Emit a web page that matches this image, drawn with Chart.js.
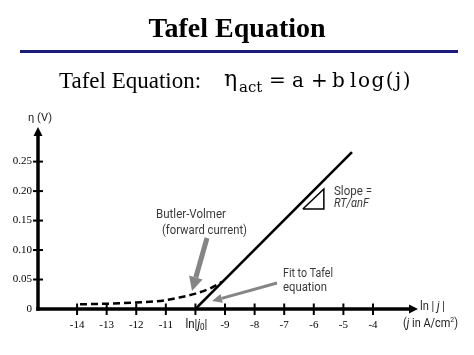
<!DOCTYPE html>
<html><head><meta charset="utf-8">
<script src="https://cdn.jsdelivr.net/npm/chart.js@4"></script>
<style>
html,body{margin:0;padding:0;background:#fff;}
#wrap{position:relative;width:474px;height:355px;overflow:hidden;background:#fff;}
#chartBox{position:absolute;left:0;top:0;width:474px;height:355px;}
.t{position:absolute;white-space:nowrap;color:#000;font-family:"Liberation Serif","Times New Roman",serif;}
.m{position:absolute;white-space:nowrap;color:#000;font-family:"DejaVu Serif",serif;font-size:20px;line-height:20px;top:70px;}
</style></head><body>
<div id="wrap">
<div id="chartBox"><canvas id="c" width="474" height="355"></canvas></div>
<div class="t" style="left:0;width:474px;text-align:center;top:13.5px;font-size:28px;line-height:28px;font-weight:bold">Tafel Equation</div>
<div style="position:absolute;left:20px;top:49.5px;width:438px;height:3px;background:#1b1b7b"></div>
<div class="t" style="left:59px;top:69px;font-size:23px;line-height:23px">Tafel Equation:</div>
<div class="m" style="left:224px;font-size:22px;line-height:22px;top:68px">η</div>
<div class="m" style="left:239px;font-size:15px;line-height:15px;top:80px">act</div>
<div class="m" style="left:269px">=</div>
<div class="m" style="left:292px">a</div>
<div class="m" style="left:311px">+</div>
<div class="m" style="left:332px">b</div>
<div class="m" style="left:350px;letter-spacing:1.5px">log(j)</div>
</div>
<script>
// ---- data ----
const xTickValues = [-14, -13, -12, -11, -10, -9, -8, -7, -6, -5, -4];
const yTickValues = [0, 0.05, 0.10, 0.15, 0.20, 0.25];
const tafelX = [-10, -4.71];
const tafelY = [0, 0.266];
const bvX = [-13.9, -13, -12, -11, -10.5, -10, -9.5, -9.1];
const bvY = [0.008, 0.009, 0.011, 0.015, 0.020, 0.026, 0.035, 0.046];
const slopeTriX = [-6.37, -5.66, -5.66, -6.37];
const slopeTriY = [0.1695, 0.2034, 0.1695, 0.1695];

const pts = (xs, ys) => xs.map((x, i) => ({x: x, y: ys[i]}));

function fitText(ctx, parts, left, y, width) {
  let w = 0;
  parts.forEach(p => { ctx.font = p[1]; w += ctx.measureText(p[0]).width; });
  const s = width / w;
  ctx.save();
  ctx.translate(left, y);
  ctx.scale(s, 1);
  ctx.textAlign = 'left'; ctx.textBaseline = 'middle';
  let cx = 0;
  parts.forEach(p => { ctx.font = p[1]; ctx.fillText(p[0], cx, p[2] || 0); cx += ctx.measureText(p[0]).width; });
  ctx.restore();
}

function arrow(ctx, x1, y1, x2, y2, w, hl, hw, color) {
  const a = Math.atan2(y2 - y1, x2 - x1);
  const bx = x2 - hl * Math.cos(a), by = y2 - hl * Math.sin(a);
  ctx.strokeStyle = color; ctx.lineWidth = w; ctx.lineCap = 'butt';
  ctx.beginPath(); ctx.moveTo(x1, y1); ctx.lineTo(bx, by); ctx.stroke();
  ctx.fillStyle = color;
  ctx.beginPath(); ctx.moveTo(x2, y2);
  ctx.lineTo(bx + hw / 2 * Math.sin(a), by - hw / 2 * Math.cos(a));
  ctx.lineTo(bx - hw / 2 * Math.sin(a), by + hw / 2 * Math.cos(a));
  ctx.closePath(); ctx.fill();
}

const SANS = 'Roboto, "Open Sans", sans-serif';
const F = (sz, st) => (st ? st + ' ' : '') + sz + 'px ' + SANS;
const overlay = {
  id: 'overlay',
  afterDraw(chart) {
    const ctx = chart.ctx, xs = chart.scales.x, ys = chart.scales.y;
    const x0 = xs.getPixelForValue(xs.min), y0 = ys.getPixelForValue(0);
    const xEnd = xs.getPixelForValue(xs.max) + 3, yTop = ys.getPixelForValue(ys.max) - 1;
    ctx.save();
    ctx.strokeStyle = '#000'; ctx.fillStyle = '#000'; ctx.lineWidth = 3.5;
    ctx.beginPath(); ctx.moveTo(x0, y0 + 1.75); ctx.lineTo(x0, yTop + 8); ctx.stroke();
    ctx.beginPath(); ctx.moveTo(x0, yTop); ctx.lineTo(x0 - 4.5, yTop + 9); ctx.lineTo(x0 + 4.5, yTop + 9); ctx.closePath(); ctx.fill();
    ctx.beginPath(); ctx.moveTo(x0 - 1.75, y0); ctx.lineTo(xEnd - 8, y0); ctx.stroke();
    ctx.beginPath(); ctx.moveTo(xEnd, y0); ctx.lineTo(xEnd - 9, y0 - 4.5); ctx.lineTo(xEnd - 9, y0 + 4.5); ctx.closePath(); ctx.fill();
    ctx.lineWidth = 2;
    xs.ticks.forEach(t => { const px = xs.getPixelForValue(t.value); ctx.beginPath(); ctx.moveTo(px, y0 - 5.5); ctx.lineTo(px, y0 + 6); ctx.stroke(); });
    ys.ticks.forEach(t => { if (t.value === 0) return; const py = ys.getPixelForValue(t.value); ctx.beginPath(); ctx.moveTo(x0 - 5, py); ctx.lineTo(x0 + 5, py); ctx.stroke(); });

    // special tick label ln|j0|
    ctx.fillStyle = '#111';
    const pj = xs.getPixelForValue(-10);
    fitText(ctx, [['ln|', F(12)], ['j', F(12, 'italic')], ['0', F(8.5), 3], ['|', F(12)]], pj - 10, 325, 22);

    // axis titles
    ctx.fillStyle = '#222';
    fitText(ctx, [['η (V)', F(11)]], 28, 118, 24);
    fitText(ctx, [['ln | ', F(12)], ['j', F(12, 'italic')], [' |', F(12)]], 420, 307, 25);
    fitText(ctx, [['(', F(12)], ['j', F(12, 'italic')], [' in A/cm', F(12)], ['2', F(7.5), -3.5], [')', F(12)]], 403, 324, 55);

    // annotations
    ctx.fillStyle = '#3a3a3a';
    fitText(ctx, [['Butler-Volmer', F(12)]], 156, 214.5, 70);
    fitText(ctx, [['(forward current)', F(12)]], 162, 231, 85);
    fitText(ctx, [['Fit to Tafel', F(12)]], 283, 274, 50);
    fitText(ctx, [['equation', F(12)]], 283, 288, 44);
    fitText(ctx, [['Slope =', F(12)]], 334, 192, 38);
    fitText(ctx, [['RT/αnF', F(12, 'italic')]], 334, 204, 35);

    arrow(ctx, 207, 238, 192, 291, 5, 14, 14, '#858585');
    arrow(ctx, 277, 283, 212, 301, 3, 10, 9, '#858585');
    ctx.restore();
  }
};

new Chart(document.getElementById('c'), {
  type: 'scatter',
  data: {
    datasets: [
      {data: pts(tafelX, tafelY), showLine: true, borderColor: '#000', borderWidth: 2.5, pointRadius: 0},
      {data: pts(bvX, bvY), showLine: true, borderColor: '#000', borderWidth: 2.5, borderDash: [7, 4], pointRadius: 0, cubicInterpolationMode: 'monotone'},
      {data: pts(slopeTriX, slopeTriY), showLine: true, borderColor: '#000', borderWidth: 1.5, pointRadius: 0}
    ]
  },
  options: {
    responsive: false, animation: false, devicePixelRatio: 1, events: [],
    layout: {padding: {top: 128, right: 59, left: 0, bottom: 0}},
    plugins: {legend: {display: false}, tooltip: {enabled: false}},
    scales: {
      x: {
        type: 'linear', min: -15.32, max: -2.58,
        grid: {display: false, drawTicks: false}, border: {display: false},
        afterBuildTicks: s => { s.ticks = xTickValues.map(v => ({value: v})); },
        afterFit: s => { s.height = 46; },
        ticks: {padding: 10, color: '#000', font: {family: '"Liberation Serif"', size: 11},
          callback: v => v === -10 ? '' : String(v)}
      },
      y: {
        type: 'linear', min: 0, max: 0.307,
        grid: {display: false, drawTicks: false}, border: {display: false},
        afterBuildTicks: s => { s.ticks = yTickValues.map(v => ({value: v})); },
        afterFit: s => { s.width = 38; },
        ticks: {padding: 6, color: '#000', font: {family: '"Liberation Serif"', size: 11},
          callback: v => v === 0 ? '0' : v.toFixed(2)}
      }
    }
  },
  plugins: [overlay]
});
</script>
</body></html>
